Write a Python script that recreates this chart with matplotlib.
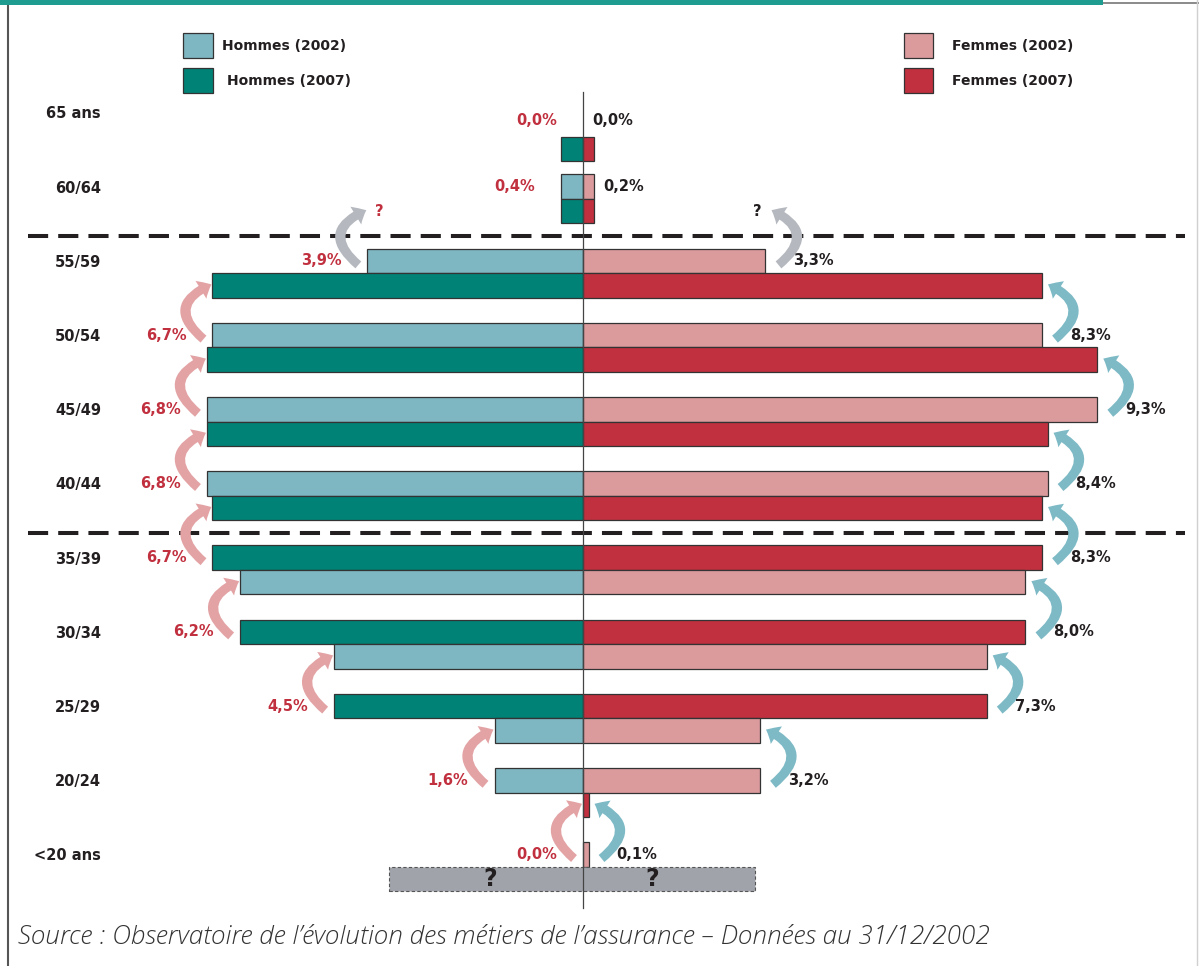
import numpy as np
import matplotlib
matplotlib.use("Agg")
import matplotlib.pyplot as plt
from matplotlib.patches import FancyArrowPatch, Rectangle

# Tranches d'âge, de la plus jeune à la plus âgée
ages = ["<20 ans", "20/24", "25/29", "30/34", "35/39", "40/44",
        "45/49", "50/54", "55/59", "60/64", "65 ans"]

# Répartition des effectifs (% du total) au 31/12/2002
hommes_2002 = [0.0, 1.6, 4.5, 6.2, 6.7, 6.8, 6.8, 6.7, 3.9, 0.4, 0.0]
femmes_2002 = [0.1, 3.2, 7.3, 8.0, 8.3, 8.4, 9.3, 8.3, 3.3, 0.2, 0.0]

# Projection 2007 : chaque tranche reprend la tranche précédente de 2002
hommes_2007 = [np.nan, 0.0, 1.6, 4.5, 6.2, 6.7, 6.8, 6.8, 6.7, 0.4, 0.4]
femmes_2007 = [np.nan, 0.1, 3.2, 7.3, 8.0, 8.3, 8.4, 9.3, 8.3, 0.2, 0.2]

legende_hommes = ["Hommes (2002)", "Hommes (2007)"]
legende_femmes = ["Femmes (2002)", "Femmes (2007)"]
source = ("Source : Observatoire de l\u2019évolution des métiers de "
          "l\u2019assurance \u2013 Données au 31/12/2002")

# ── mise en page (pixels -> unités des axes) ─────────────────────────────────
W, H = 1199, 966
X0, PX_PCT = 583, 55.3      # axe central, pixels par point de %
Y0, PX_ROW = 856, 74.2      # ligne "<20 ans", pas entre tranches


def px_x(p):
    return (p - X0) / PX_PCT


def px_y(p):
    return (Y0 - p) / PX_ROW


def dx(p):
    return p / PX_PCT


def dy(p):
    return p / PX_ROW


H_CLAIR, H_FONCE = "#7eb6c1", "#008276"
F_CLAIR, F_FONCE = "#db9b9d", "#c1303f"
FL_HOMMES, FL_FEMMES, FL_GRIS = "#e3a3a5", "#7dbac6", "#b5b9bf"
ROUGE, NOIR, BORD = "#c1303f", "#231f20", "#333333"
TXT = dict(fontweight="bold", fontsize=10.5, va="center")

fig = plt.figure(figsize=(W / 100, H / 100), dpi=100)
ax = fig.add_axes([0, 0, 1, 1])
ax.set_xlim(px_x(0), px_x(W))
ax.set_ylim(px_y(H), px_y(0))
ax.axis("off")

BAR_H = 0.33
y_haut = np.arange(len(ages)) + 0.02
y_bas = y_haut - BAR_H
y_bas[-1] -= dy(12)                      # la tranche 65 ans est un peu plus basse
inverse = {"25/29", "30/34", "35/39"}   # couleurs permutées sous 40 ans

for g, age in enumerate(ages):
    h_up, h_lo = (H_CLAIR, H_FONCE) if age not in inverse else (H_FONCE, H_CLAIR)
    f_up, f_lo = (F_CLAIR, F_FONCE) if age not in inverse else (F_FONCE, F_CLAIR)
    if hommes_2002[g] > 0:
        ax.barh(y_haut[g], -hommes_2002[g], height=BAR_H, color=h_up,
                edgecolor=BORD, lw=0.9, zorder=2)
    if femmes_2002[g] > 0:
        ax.barh(y_haut[g], femmes_2002[g], height=BAR_H, color=f_up,
                edgecolor=BORD, lw=0.9, zorder=2)
    if np.isnan(hommes_2007[g]):
        # effectifs 2007 inconnus pour les moins de 20 ans
        ax.add_patch(Rectangle((px_x(389), y_bas[g] - BAR_H / 2),
                               dx(755 - 389), BAR_H, facecolor="#a0a4aa",
                               edgecolor="#555555", ls=(0, (3, 2)), lw=0.8, zorder=2))
        ax.text(px_x(490), y_bas[g], "?", ha="center", va="center",
                fontsize=17, fontweight="bold", color=NOIR, zorder=4)
        ax.text(px_x(652), y_bas[g], "?", ha="center", va="center",
                fontsize=17, fontweight="bold", color=NOIR, zorder=4)
    else:
        if hommes_2007[g] > 0:
            ax.barh(y_bas[g], -hommes_2007[g], height=BAR_H, color=h_lo,
                    edgecolor=BORD, lw=0.9, zorder=2)
        if femmes_2007[g] > 0:
            ax.barh(y_bas[g], femmes_2007[g], height=BAR_H, color=f_lo,
                    edgecolor=BORD, lw=0.9, zorder=2)

    ax.text(px_x(101), g, age, ha="right", color=NOIR, **TXT)


def fleche(x0, y0, x1, y1, rad, color):
    ax.add_patch(FancyArrowPatch(
        (x0, y0), (x1, y1),
        arrowstyle="simple,head_length=8.5,head_width=15,tail_width=6.5",
        connectionstyle=f"arc3,rad={rad}", mutation_scale=1,
        color=color, lw=0, shrinkA=0, shrinkB=0, zorder=3))


# flèches de vieillissement : tranche g en 2002 -> tranche g+1 en 2007
for g in range(len(ages) - 2):
    h, f = hommes_2002[g], femmes_2002[g]
    y0, y1 = y_haut[g] - dy(4), y_bas[g + 1] + dy(1)
    gris = g == len(ages) - 3
    fleche(-h - dx(9), y0, -h - dx(1), y1, -0.8, FL_GRIS if gris else FL_HOMMES)
    fleche(f + dx(13), y0, f + dx(6), y1, 0.8, FL_GRIS if gris else FL_FEMMES)
    if gris:
        ax.text(-h + dx(8), y_bas[g + 1], "?", ha="left", color=ROUGE, **TXT)
        ax.text(f - dx(4), y_bas[g + 1], "?", ha="right", color=NOIR, **TXT)

# valeurs 2002
for g in range(len(ages)):
    h, f = hommes_2002[g], femmes_2002[g]
    y = y_haut[g] if g < len(ages) - 1 else y_haut[g] - dy(8)
    ax.text(-h - dx(26), y, f"{h:.1f}%".replace(".", ","),
            ha="right", color=ROUGE, **TXT)
    decal = 28 if g < len(ages) - 2 else 9
    ax.text(f + dx(decal), y, f"{f:.1f}%".replace(".", ","),
            ha="left", color=NOIR, **TXT)

# axe central et séparateurs
ax.plot([0, 0], [px_y(92), px_y(908)], color="#444444", lw=0.9, zorder=5)
for g in (4, 8):
    y = g + 0.355
    ax.plot([px_x(28), px_x(1185)], [y, y], color="#231f20", lw=2.9,
            ls=(0, (5, 2.5)), zorder=1)

# légende
for i, (lab_h, lab_f) in enumerate(zip(legende_hommes, legende_femmes)):
    top = 33 + 35 * i
    ax.add_patch(Rectangle((px_x(183), px_y(top + 25)), dx(30), dy(25),
                           facecolor=[H_CLAIR, H_FONCE][i], edgecolor=BORD, lw=0.9))
    ax.add_patch(Rectangle((px_x(904), px_y(top + 25)), dx(29), dy(25),
                           facecolor=[F_CLAIR, F_FONCE][i], edgecolor=BORD, lw=0.9))
    ax.text(px_x(222 + 5 * i), px_y(top + 13), lab_h, ha="left", color=NOIR,
            fontweight="bold", fontsize=10, va="center")
    ax.text(px_x(952), px_y(top + 13), lab_f, ha="left", color=NOIR,
            fontweight="bold", fontsize=10, va="center")

# cadre et bandeau
ax.add_patch(Rectangle((px_x(0), px_y(5)), dx(1103), dy(5),
                       facecolor="#1e9c90", lw=0, zorder=6))
ax.plot([px_x(1103), px_x(W)], [px_y(3), px_y(3)], color="#777777", lw=1.2)
ax.plot([px_x(8), px_x(8)], [px_y(0), px_y(H)], color="#555555", lw=1.5)
ax.plot([px_x(1197), px_x(1197)], [px_y(0), px_y(H)], color="#d0d0d0", lw=1.0)

ax.text(px_x(18), px_y(937), source, ha="left", va="center", color="#333333",
        fontsize=18.8, fontstyle="italic", fontweight="light", family="Open Sans")

fig.savefig("out.png", dpi=100)
